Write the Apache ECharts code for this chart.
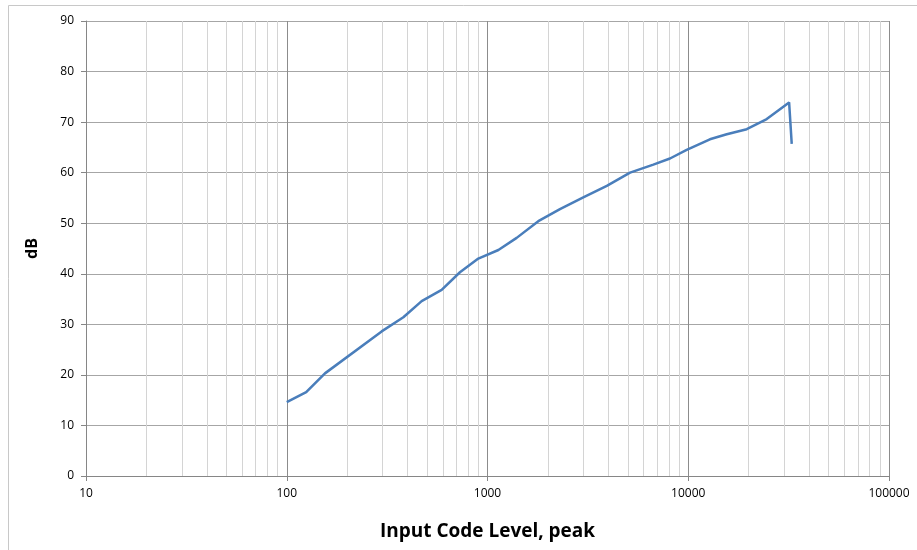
<!DOCTYPE html>
<html>
<head>
<meta charset="utf-8">
<script src="https://cdn.jsdelivr.net/npm/echarts@6/dist/echarts.min.js"></script>
<style>html,body{margin:0;padding:0;background:#fff}#c{width:917px;height:550px}</style>
</head>
<body>
<div id="c"></div>
<script>
const inputLevel = [100, 125, 155, 297, 381, 470, 591, 729, 900, 1133, 1397, 1791, 2296, 3000, 3929, 5130, 6700, 8110, 9820, 12820, 15550, 19560, 24600, 31800, 32767];
const dbValues   = [14.6, 16.6, 20.3, 28.6, 31.4, 34.6, 36.8, 40.3, 43.0, 44.7, 47.1, 50.4, 52.8, 55.1, 57.4, 60.0, 61.6, 62.8, 64.5, 66.6, 67.6, 68.6, 70.6, 73.9, 65.7];
const minorGridX = [20,30,40,50,60,70,80,90,200,300,400,500,600,700,800,900,2000,3000,4000,5000,6000,7000,8000,9000,20000,30000,40000,50000,60000,70000,80000,90000];
const xTitle = 'Input Code Level, peak';
const yTitle = 'dB';

const font = '"Open Sans", sans-serif';
const chart = echarts.init(document.getElementById('c'), null, {renderer: 'canvas'});
chart.setOption({
  animation: false,
  backgroundColor: '#fff',
  graphic: [{
    type: 'rect', shape: {x: 8.5, y: 5.5, width: 960, height: 600},
    style: {fill: 'none', stroke: '#c8c8c8', lineWidth: 1}, silent: true, z: -1
  }],
  grid: {left: 86, right: 28, top: 21, bottom: 74},
  xAxis: {
    type: 'log', logBase: 10, min: 10, max: 100000,
    name: xTitle, nameLocation: 'middle', nameGap: 46,
    nameTextStyle: {fontFamily: font, fontWeight: 'bold', fontSize: 19, color: '#000'},
    axisLine: {show: true, lineStyle: {color: '#868686', width: 1}},
    axisTick: {show: true, length: 5, lineStyle: {color: '#868686'}},
    axisLabel: {fontFamily: font, fontSize: 12, color: '#000', margin: 12, showMinLabel: true, showMaxLabel: true,
      formatter: v => String(Math.round(v))},
    splitLine: {show: true, lineStyle: {color: '#8c8c8c', width: 1}},
    minorTick: {show: false}, minorSplitLine: {show: false}
  },
  yAxis: {
    type: 'value', min: 0, max: 90, interval: 10,
    name: yTitle, nameLocation: 'middle', nameGap: 46, nameRotate: 90,
    nameTextStyle: {fontFamily: font, fontWeight: 'bold', fontSize: 16, color: '#000'},
    axisLine: {show: true, lineStyle: {color: '#868686', width: 1}},
    axisTick: {show: true, length: 5, lineStyle: {color: '#868686'}},
    axisLabel: {fontFamily: font, fontSize: 12, color: '#000', margin: 12},
    splitLine: {show: true, lineStyle: {color: '#a6a6a6', width: 1}}
  },
  series: [{
    type: 'line',
    data: inputLevel.map((x, i) => [x, dbValues[i]]),
    showSymbol: false, symbol: 'none',
    lineStyle: {color: '#4a7ebb', width: 2.5},
    z: 5,
    markLine: {
      silent: true, symbol: 'none', animation: false,
      label: {show: false},
      lineStyle: {color: '#d4d4d4', width: 1, type: 'solid'},
      data: minorGridX.map(v => ({xAxis: v}))
    }
  }]
});
</script>
</body>
</html>
